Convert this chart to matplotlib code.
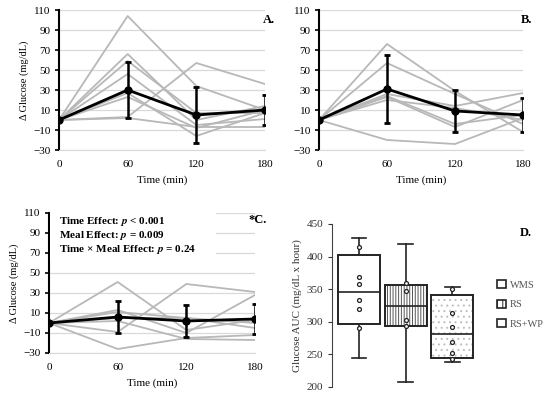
import matplotlib
matplotlib.use("Agg")
import matplotlib.pyplot as plt
import matplotlib.patches as mpatches
import numpy as np

plt.rcParams['font.family'] = ['Liberation Serif', 'DejaVu Serif']
plt.rcParams['hatch.linewidth'] = 0.7

times = [0, 60, 120, 180]

# Panel A (WMS) individual responses
a_lines = [
    [0, 104, 34, 10],
    [0, 66, 0, 14],
    [0, 59, 7, 7],
    [0, 46, -5, 1],
    [0, 27, -16, 7],
    [0, 23, -8, 10],
    [0, 3, 57, 36],
    [0, 2, -7, -7],
]
a_mean = [0, 30, 5, 10]
a_err = [0, 28, 28, 15]

# Panel B (RS)
b_lines = [
    [0, 76, 29, -12],
    [0, 57, 26, -4],
    [0, 26, 14, 27],
    [0, 23, -7, 20],
    [0, 20, 12, 0],
    [0, -20, -24, 2],
    [0, 24, -4, 5],
]
b_mean = [0, 31, 9, 5]
b_err = [0, 34, 21, 17]

# Panel C (RS+WP)
c_lines = [
    [0, 41, -7, 3],
    [0, -9, 39, 31],
    [0, 13, -10, 28],
    [0, 11, 5, -5],
    [0, -26, -15, -12],
    [0, 2, -16, -17],
    [0, 5, 5, 0],
]
c_mean = [0, 6, 2, 4]
c_err = [0, 16, 16, 15]

yticks = [-30, -10, 10, 30, 50, 70, 90, 110]

# Panel D box plot data (AUC)
groups = ['WMS', 'RS', 'RS+WP']
auc_pts = [
    [415, 368, 358, 334, 320, 291],
    [359, 348, 302, 294],
    [351, 314, 292, 269, 252, 243],
]
box_q1 = [297, 294, 245]
box_med = [346, 324, 281]
box_q3 = [403, 356, 341]
wh_lo = [245, 208, 239]
wh_hi = [429, 419, 353]
hatches = ['', '||||||', '...']
hatch_cols = ['#222222', '#555555', '#bdbdbd']

fig = plt.figure(figsize=(5.5, 3.94), dpi=100)
W, H = 550, 394

def ax_px(l, t, r, b):
    return fig.add_axes([l / W, 1 - b / H, (r - l) / W, (b - t) / H])

def line_panel(ax, lines, mean, err, label, lx, ly, ylabel=True):
    for ln in lines:
        ax.plot(times, ln, color='#b8b8b8', lw=1.3, zorder=2)
    ax.errorbar(times, mean, yerr=err, color='black', lw=2.0, marker='o',
                ms=5, capsize=2.5, capthick=2, elinewidth=1.8, zorder=4)
    ax.set_xlim(0, 180)
    ax.set_ylim(-30, 110)
    ax.set_yticks(yticks)
    ax.set_xticks(times)
    ax.yaxis.grid(True, color='#d9d9d9', lw=0.9)
    ax.set_axisbelow(True)
    for s in ['top', 'right']:
        ax.spines[s].set_visible(False)
    ax.spines['bottom'].set_color('#d9d9d9')
    ax.spines['left'].set_linewidth(1.5)
    ax.tick_params(axis='y', length=3, width=1.2, labelsize=8, pad=3)
    ax.tick_params(axis='x', length=0, labelsize=8, pad=7)
    ax.set_xlabel('Time (min)', fontsize=8, labelpad=5)
    if ylabel:
        ax.set_ylabel('Δ Glucose (mg/dL)', fontsize=7.5, labelpad=3)
    ax.text(lx, ly, label, transform=ax.transAxes, ha='right',
            va='top', fontsize=9, fontweight='bold', zorder=6)

axA = ax_px(59, 10, 265, 150)
line_panel(axA, a_lines, a_mean, a_err, 'A.', 1.05, 0.97)
axB = ax_px(319, 10, 523, 150)
line_panel(axB, b_lines, b_mean, b_err, 'B.', 1.045, 0.97, ylabel=False)
axC = ax_px(49, 213, 255, 353)
line_panel(axC, c_lines, c_mean, c_err, '*C.', 1.058, 0.99)
axC.add_patch(mpatches.Rectangle((1, 62), 145, 50, facecolor='white',
                                  edgecolor='none', zorder=3, clip_on=False))
stat_lines = ['Time Effect: $\\boldsymbol{p}$ < 0.001',
              'Meal Effect: $\\boldsymbol{p}$ = 0.009',
              'Time × Meal Effect: $\\boldsymbol{p}$ = 0.24']
for i, s in enumerate(stat_lines):
    axC.text(0.05, 0.985 - i * 0.098, s, transform=axC.transAxes, fontsize=8,
             fontweight='bold', va='top', ha='left', zorder=5,
             math_fontfamily='stix')

# Panel D
axD = ax_px(332, 224, 482, 387)
pos = [1, 2, 3]
bw = 0.9
for i, p in enumerate(pos):
    axD.add_patch(mpatches.Rectangle((p - bw / 2, box_q1[i]), bw, box_q3[i] - box_q1[i],
                                     facecolor='white', edgecolor=hatch_cols[i], lw=0,
                                     hatch=hatches[i], zorder=2))
    axD.add_patch(mpatches.Rectangle((p - bw / 2, box_q1[i]), bw, box_q3[i] - box_q1[i],
                                     facecolor='none', edgecolor='#222222', lw=1.4,
                                     zorder=2.5))
    axD.plot([p - bw / 2, p + bw / 2], [box_med[i]] * 2, color='#222222', lw=1.2, zorder=3)
    axD.plot([p, p], [wh_hi[i], box_q3[i]], color='#222222', lw=1.2, zorder=1)
    axD.plot([p, p], [box_q1[i], wh_lo[i]], color='#222222', lw=1.2, zorder=1)
    axD.plot([p - 0.16, p + 0.16], [wh_hi[i]] * 2, color='#222222', lw=1.2)
    axD.plot([p - 0.16, p + 0.16], [wh_lo[i]] * 2, color='#222222', lw=1.2)
    axD.scatter([p] * len(auc_pts[i]), auc_pts[i], s=8, facecolor='white',
                edgecolor='#222222', lw=0.9, zorder=4)
axD.set_xlim(0.42, 3.64)
axD.set_ylim(200, 450)
axD.set_yticks([200, 250, 300, 350, 400, 450])
axD.set_xticks([])
for s in ['top', 'right', 'bottom']:
    axD.spines[s].set_visible(False)
axD.spines['left'].set_color('#444444')
axD.tick_params(axis='y', length=3, labelsize=8, colors='#333333')
axD.set_ylabel('Glucose AUC (mg/dL x hour)', fontsize=8, color='#333333', labelpad=3)
fig.text(520 / W, 1 - 233 / H, 'D.', fontsize=9, fontweight='bold', va='center')

handles = [mpatches.Patch(facecolor='white', edgecolor='#222222', lw=1.2, hatch=h)
           for h in ['', '|||', '']]
fig.legend(handles, groups, loc='upper left', bbox_to_anchor=(488 / W, 1 - 271 / H),
           frameon=False, fontsize=7.5, handlelength=0.8, handleheight=0.8,
           handletextpad=0.4, labelspacing=0.95, labelcolor='#555555')

fig.savefig('out.png', dpi=100)
